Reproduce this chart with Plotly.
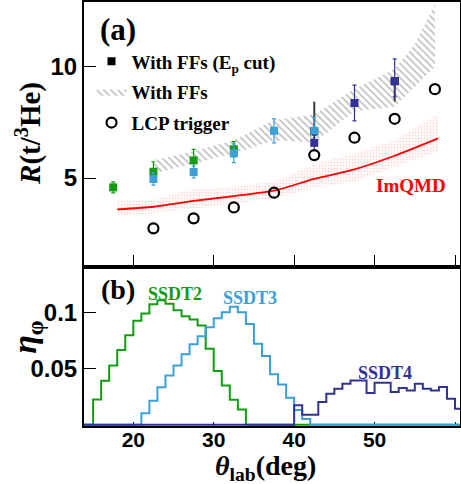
import plotly.graph_objects as go

# ---------------- panel (a) data ----------------
theta_ssdt2 = [17.5, 22.5, 27.5, 32.5]
r_ssdt2 = [4.58, 5.28, 5.79, 6.29]
err_ssdt2 = [0.25, 0.45, 0.50, 0.34]

theta_ssdt3 = [22.5, 27.5, 32.5, 37.5, 42.5]
r_ssdt3 = [4.96, 5.27, 6.11, 7.12, 7.12]
err_ssdt3 = [0.28, 0.26, 0.42, 0.54, 0.60]

theta_ssdt4 = [42.5, 47.5, 52.5]
r_ssdt4 = [6.58, 8.37, 9.35]
err_ssdt4_plus = [0.35, 0.80, 1.00]
err_ssdt4_minus = [0.35, 0.80, 0.70]

theta_comb = [42.5, 52.5]
r_comb = [7.10, 9.35]
err_comb_plus = [1.33, 0.0]
err_comb_minus = [0.50, 0.92]

theta_lcp = [22.5, 27.5, 32.5, 37.5, 42.5, 47.5, 52.5, 57.5]
r_lcp = [2.74, 3.19, 3.68, 4.34, 6.03, 6.81, 7.66, 8.99]

theta_ffs = [22.5, 27.5, 32.5, 37.5, 42.5, 47.5, 52.5, 55.0, 57.5]
ffs_high = [5.80, 6.20, 6.70, 7.60, 7.85, 9.00, 9.90, 11.0, 12.8]
ffs_low = [5.20, 5.65, 6.10, 6.70, 6.60, 8.00, 8.20, 9.10, 10.0]

theta_qmd = [18.0, 22.5, 27.5, 32.5, 37.5, 42.5, 47.5, 52.5, 57.9]
r_qmd = [3.59, 3.71, 3.97, 4.19, 4.43, 4.96, 5.39, 6.00, 6.78]
qmd_high = [4.01, 4.02, 4.52, 4.60, 4.83, 5.60, 6.10, 6.70, 7.85]
qmd_low = [3.33, 3.41, 3.63, 3.86, 4.09, 4.54, 4.84, 5.51, 6.18]

# ---------------- panel (b) data (1-degree bins) ----------------
bin_first, bin_last = 13, 61
ssdt2_start = 15
ssdt2_eta = [0.0226, 0.0393, 0.0530, 0.0667, 0.0801, 0.0929, 0.0994, 0.1077, 0.1113,
             0.1083, 0.1024, 0.0970, 0.0940, 0.0887, 0.0679, 0.0480, 0.0351, 0.0223, 0.0135]
ssdt3_start = 21
ssdt3_eta = [0.0101, 0.0215, 0.0334, 0.0440, 0.0530, 0.0630, 0.0720, 0.0790, 0.0872,
             0.0952, 0.1006, 0.1056, 0.1006, 0.0900, 0.0725, 0.0615, 0.0450, 0.0360,
             0.0241, 0.0131, 0.0050]
ssdt4_start = 40
ssdt4_eta = [0.0173, 0.0089, 0.0089, 0.0202, 0.0277, 0.0321, 0.0366, 0.0396, 0.0396,
             0.0283, 0.0375, 0.0375, 0.0292, 0.0327, 0.0306, 0.0366, 0.0321, 0.0306,
             0.0336, 0.0232, 0.0143]

C_GREEN = "rgb(20,155,20)"
C_LBLUE = "rgb(60,160,215)"
C_DBLUE = "rgb(50,50,150)"
C_RED = "rgb(255,0,0)"
SERIF = "Liberation Serif"
SANS = "Liberation Sans"

fig = go.Figure()

# ImQMD band
fig.add_trace(go.Scatter(
    x=theta_qmd + theta_qmd[::-1], y=qmd_high + qmd_low[::-1],
    fill="toself", mode="lines", line=dict(width=0),
    fillcolor="rgba(0,0,0,0)",
    fillpattern=dict(shape=".", fgcolor="rgba(255,80,80,0.45)", bgcolor="rgba(255,255,255,0)",
                     size=3, solidity=0.35),
    showlegend=False, xaxis="x", yaxis="y", hoverinfo="skip"))

# With FFs hatched band
fig.add_trace(go.Scatter(
    x=theta_ffs + theta_ffs[::-1], y=ffs_high + ffs_low[::-1],
    fill="toself", mode="lines", line=dict(width=0),
    fillcolor="rgba(0,0,0,0)",
    fillpattern=dict(shape="\\", fgcolor="rgb(120,120,120)", bgcolor="rgba(255,255,255,0)",
                     size=5, solidity=0.3),
    name="<b>With FFs</b>", legendrank=2, legendgroup="g2", xaxis="x", yaxis="y"))

# ImQMD line
fig.add_trace(go.Scatter(
    x=theta_qmd, y=r_qmd, mode="lines", line=dict(color=C_RED, width=1.8, shape="spline", smoothing=0.6),
    showlegend=False, xaxis="x", yaxis="y"))

# combined (black) points
fig.add_trace(go.Scatter(
    x=theta_comb, y=r_comb, mode="markers",
    marker=dict(symbol="square", size=8, color="black"),
    error_y=dict(type="data", array=err_comb_plus, arrayminus=err_comb_minus, color="rgb(60,60,60)",
                 thickness=2, width=0),
    name="<b>With FFs (E<sub>p</sub> cut)</b>", legendrank=1, legendgroup="g1", xaxis="x", yaxis="y"))

for th, rv, ep, em, col in [
    (theta_ssdt2, r_ssdt2, err_ssdt2, err_ssdt2, C_GREEN),
    (theta_ssdt3, r_ssdt3, err_ssdt3, err_ssdt3, C_LBLUE),
    (theta_ssdt4, r_ssdt4, err_ssdt4_plus, err_ssdt4_minus, C_DBLUE),
]:
    fig.add_trace(go.Scatter(
        x=th, y=rv, mode="markers",
        marker=dict(symbol="square", size=8, color=col),
        error_y=dict(type="data", array=ep, arrayminus=em, color=col, thickness=1.2, width=2),
        showlegend=False, xaxis="x", yaxis="y"))

# LCP trigger circles
fig.add_trace(go.Scatter(
    x=theta_lcp, y=r_lcp, mode="markers",
    marker=dict(symbol="circle-open", size=10, color="black", line=dict(width=2.2, color="black")),
    name="<b>LCP trigger</b>", legendrank=3, legendgroup="g3", xaxis="x", yaxis="y"))

# ---------------- histograms ----------------
def hist_xy(start, vals):
    bins = list(range(bin_first, bin_last + 1))
    ys = []
    for b in bins:
        i = b - start
        ys.append(vals[i] if 0 <= i < len(vals) else 0.0)
    xs = bins + [bin_last + 1]
    ys = ys + [ys[-1]]
    return xs, ys

for start, vals, col in [(ssdt2_start, ssdt2_eta, C_GREEN),
                         (ssdt3_start, ssdt3_eta, C_LBLUE),
                         (ssdt4_start, ssdt4_eta, C_DBLUE)]:
    hx, hy = hist_xy(start, vals)
    fig.add_trace(go.Scatter(x=hx, y=hy, mode="lines", line=dict(color=col, width=2, shape="hv"),
                             showlegend=False, xaxis="x2", yaxis="y2"))

# ---------------- layout ----------------
xr = [13.87, 60.62]
tickfont_y = dict(family=SANS, size=24, color="black", weight="bold")
tickfont_x = dict(family=SANS, size=21, color="black", weight="bold")
common = dict(showline=True, linewidth=2, linecolor="black", mirror=True, showgrid=False,
              zeroline=False, ticks="inside", tickcolor="black", automargin=False)

fig.update_layout(
    width=461, height=484,
    margin=dict(l=84, r=1, t=2, b=58, autoexpand=False),
    plot_bgcolor="white", paper_bgcolor="white",
    xaxis=dict(domain=[0, 1], anchor="y", range=xr, tickvals=[20, 30, 40, 50, 60],
               showticklabels=False, ticklen=10, tickwidth=1.2, **common),
    yaxis=dict(domain=[0.3797, 1], anchor="x", range=[1.093, 12.905], tickvals=[5, 10],
               ticklen=12, tickwidth=1.2, tickfont=tickfont_y, **common),
    xaxis2=dict(domain=[0, 1], anchor="y2", range=xr, matches="x", tickvals=[20, 30, 40, 50, 60],
                ticklen=4, tickwidth=1.2, tickfont=tickfont_x, layer="below traces",
                ticklabelstandoff=-6, **common),
    yaxis2=dict(domain=[0, 0.3703], anchor="x2", range=[-0.0012, 0.1393], tickvals=[0.05, 0.1],
                ticktext=["0.05", "0.1"], ticklen=12, tickwidth=1.2, tickfont=tickfont_y, **common),
    legend=dict(x=0.02, y=0.905, xanchor="left", yanchor="top", bgcolor="rgba(0,0,0,0)",
                font=dict(family=SERIF, size=19, color="black"), itemwidth=30,
                traceorder="grouped", tracegroupgap=3),
    showlegend=True,
)

ann = [
    dict(text="<b>(a)</b>", x=0.037, y=0.936, xanchor="left", yanchor="middle",
         font=dict(family=SERIF, size=31, color="black")),
    dict(text="<b>(b)</b>", x=0.04, y=0.323, xanchor="left", yanchor="middle",
         font=dict(family=SERIF, size=28, color="black")),
    dict(text="<b><i>R</i>(t/<sup>3</sup>He)</b>", x=-0.146, y=0.689, textangle=-90,
         xanchor="center", yanchor="middle", font=dict(family=SERIF, size=29, color="black")),
    dict(text="<b><i>η</i><sub>φ</sub></b>", x=-0.152, y=0.21, textangle=-90,
         xanchor="center", yanchor="middle", font=dict(family=SERIF, size=34, color="black")),
    dict(text="<b><i>θ</i><sub>lab</sub>(deg)</b>", x=0.484, y=-0.052, xanchor="center", yanchor="top",
         font=dict(family=SERIF, size=28, color="black")),
    dict(text="<b>ImQMD</b>", x=0.87, y=0.568, xanchor="center", yanchor="middle",
         font=dict(family=SERIF, size=19, color=C_RED)),
    dict(text="<b>SSDT2</b>", x=0.242, y=0.312, xanchor="center", yanchor="middle",
         font=dict(family=SERIF, size=18, color=C_GREEN)),
    dict(text="<b>SSDT3</b>", x=0.4415, y=0.302, xanchor="center", yanchor="middle",
         font=dict(family=SERIF, size=18, color=C_LBLUE)),
    dict(text="<b>SSDT4</b>", x=0.80, y=0.126, xanchor="center", yanchor="middle",
         font=dict(family=SERIF, size=18, color=C_DBLUE)),
]
for a in ann:
    a.update(xref="paper", yref="paper", showarrow=False)
fig.update_layout(annotations=ann)

fig.write_html("out.html", config={"displayModeBar": False},
               post_script="document.body.style.margin='0';document.body.style.overflow='hidden';")
